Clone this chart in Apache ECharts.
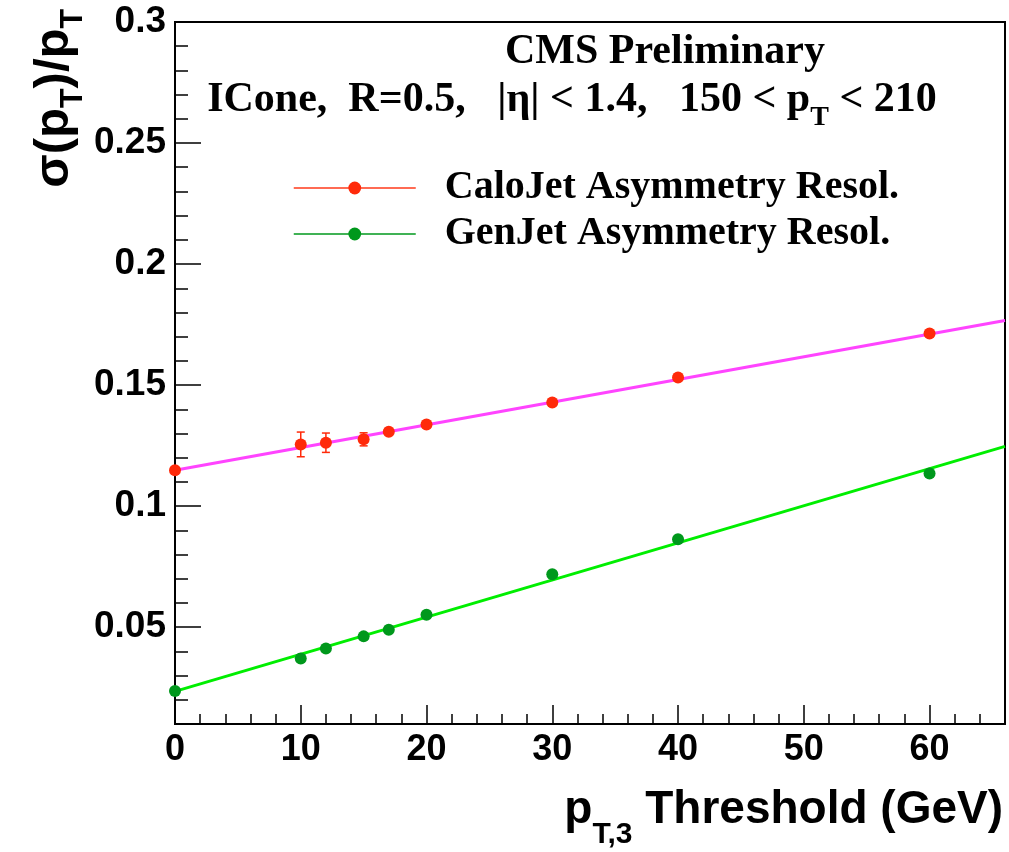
<!DOCTYPE html>
<html><head><meta charset="utf-8">
<script src="https://cdn.jsdelivr.net/npm/echarts@6/dist/echarts.min.js"></script>
<style>html,body{margin:0;padding:0;background:#fff}#c{width:1009px;height:852px}</style>
</head><body><div id="c"></div>
<script>
// ---- data ----
const thresholds = [0, 10, 12, 15, 17, 20, 30, 40, 60];
const caloRes = [0.1148, 0.1255, 0.1262, 0.1276, 0.1307, 0.1337, 0.1428, 0.1531, 0.1713];
const caloErr = [0.0006, 0.0051, 0.0040, 0.0027, 0.0012, 0.0008, 0.0006, 0.0006, 0.0006];
const genRes = [0.0236, 0.0371, 0.0412, 0.0462, 0.0489, 0.0551, 0.0719, 0.0863, 0.1135];
const fitX = [0, 66];
const caloFit = [0.1148, 0.1767];
const genFit = [0.0235, 0.1247];
const xTicks = [0, 10, 20, 30, 40, 50, 60];
const xMinorTicks = [0, 2, 4, 6, 8, 10, 12, 14, 16, 18, 20, 22, 24, 26, 28, 30, 32, 34, 36, 38, 40, 42, 44, 46, 48, 50, 52, 54, 56, 58, 60, 62, 64, 66];
const yTicks = [0.05, 0.1, 0.15, 0.2, 0.25, 0.3];
const yMinorTicks = [0.01, 0.02, 0.03, 0.04, 0.05, 0.06, 0.07, 0.08, 0.09, 0.1, 0.11, 0.12, 0.13, 0.14, 0.15, 0.16, 0.17, 0.18, 0.19, 0.2, 0.21, 0.22, 0.23, 0.24, 0.25, 0.26, 0.27, 0.28, 0.29, 0.3];
const seriesNames = ['CaloJet Asymmetry Resol.', 'GenJet Asymmetry Resol.'];

const chart = echarts.init(document.getElementById('c'), null, {renderer: 'canvas'});
const SANS = '"Liberation Sans", Arial, sans-serif';
const SERIF = '"Liberation Serif", "Times New Roman", serif';
const pairs = (xs, ys) => xs.map((x, i) => [x, ys[i]]);

const commonX = {type: 'value', min: 0, max: 66, splitLine: {show: false}};
const commonY = {type: 'value', min: 0.01, max: 0.3, interval: 0.01, splitLine: {show: false}};

const option = {
  animation: false,
  backgroundColor: '#fff',
  grid: {left: 175, right: 4, top: 22, bottom: 128, show: true, borderColor: '#000', borderWidth: 2, backgroundColor: 'transparent'},
  xAxis: [
    Object.assign({}, commonX, {
      position: 'bottom',
      axisLine: {onZero: false, lineStyle: {color: '#000', width: 2}},
      axisTick: {inside: true, length: 19, customValues: xTicks, lineStyle: {color: '#000', width: 1.5}},
      axisLabel: {customValues: xTicks, color: '#000', fontFamily: SANS, fontWeight: 'bold', fontSize: 36, margin: 8}
    }),
    Object.assign({}, commonX, {
      position: 'bottom',
      axisLine: {show: false, onZero: false},
      axisTick: {inside: true, length: 10, customValues: xMinorTicks, lineStyle: {color: '#000', width: 1.5}},
      axisLabel: {show: false}
    })
  ],
  yAxis: [
    Object.assign({}, commonY, {
      position: 'left',
      axisLine: {onZero: false, lineStyle: {color: '#000', width: 2}},
      axisTick: {inside: true, length: 26, customValues: yTicks, lineStyle: {color: '#000', width: 1.5}},
      axisLabel: {customValues: yTicks, color: '#000', fontFamily: SANS, fontWeight: 'bold', fontSize: 37, margin: 9,
        formatter: v => String(+v.toFixed(2))}
    }),
    Object.assign({}, commonY, {
      position: 'left',
      axisLine: {show: false, onZero: false},
      axisTick: {inside: true, length: 13, customValues: yMinorTicks, lineStyle: {color: '#000', width: 1.5}},
      axisLabel: {show: false}
    })
  ],
  legend: {
    data: seriesNames,
    orient: 'vertical',
    left: 293,
    top: 168,
    padding: 0,
    itemWidth: 122,
    itemHeight: 16,
    itemGap: 6,
    selectedMode: false,
    lineStyle: {opacity: 1, width: 1.5},
    textStyle: {color: '#000', fontFamily: SERIF, fontWeight: 'bold', fontSize: 40, lineHeight: 40, padding: [0, 0, 0, 24]}
  },
  series: [
    {
      type: 'custom',
      z: 2,
      silent: true,
      data: thresholds.map((x, i) => [x, caloRes[i], caloErr[i]]),
      renderItem: function (params, api) {
        const x = api.value(0), y = api.value(1), e = api.value(2);
        const top = api.coord([x, y + e]);
        const bot = api.coord([x, y - e]);
        const st = {stroke: '#ff2a0a', lineWidth: 1.5};
        return {
          type: 'group',
          children: [
            {type: 'line', shape: {x1: top[0], y1: top[1], x2: bot[0], y2: bot[1]}, style: st},
            {type: 'line', shape: {x1: top[0] - 4, y1: top[1], x2: top[0] + 4, y2: top[1]}, style: st},
            {type: 'line', shape: {x1: bot[0] - 4, y1: bot[1], x2: bot[0] + 4, y2: bot[1]}, style: st}
          ]
        };
      }
    },
    {
      name: 'caloFit', type: 'line', z: 3, symbol: 'none', silent: true,
      data: pairs(fitX, caloFit),
      lineStyle: {color: '#ff44ff', width: 3}
    },
    {
      name: 'genFit', type: 'line', z: 3, symbol: 'none', silent: true,
      data: pairs(fitX, genFit),
      lineStyle: {color: '#00ee00', width: 3}
    },
    {
      name: seriesNames[0], type: 'line', z: 4,
      data: pairs(thresholds, caloRes),
      symbol: 'circle', symbolSize: 12,
      itemStyle: {color: '#ff2a0a'},
      lineStyle: {color: '#ff3a1a', opacity: 0, width: 1.5}
    },
    {
      name: seriesNames[1], type: 'line', z: 4,
      data: pairs(thresholds, genRes),
      symbol: 'circle', symbolSize: 12,
      itemStyle: {color: '#00981c'},
      lineStyle: {color: '#00981c', opacity: 0, width: 1.5}
    }
  ],
  graphic: [
    {
      type: 'text', x: 665, y: 52, z: 10,
      style: {text: 'CMS Preliminary', font: 'bold 42px ' + SERIF, fill: '#000',
        textAlign: 'center', align: 'center', textVerticalAlign: 'middle', verticalAlign: 'middle'}
    },
    {
      type: 'text', x: 572, y: 100, z: 10,
      style: {
        text: '{m|ICone,  R=0.5,   |η| < 1.4,   150 < p}{sub|T}{m| < 210}',
        textAlign: 'center', align: 'center', textVerticalAlign: 'middle', verticalAlign: 'middle', fill: '#000',
        rich: {
          m: {fontFamily: SERIF, fontWeight: 'bold', fontSize: 42, lineHeight: 64, fill: '#000', color: '#000'},
          sub: {fontFamily: SERIF, fontWeight: 'bold', fontSize: 28, verticalAlign: 'bottom', fill: '#000', color: '#000'}
        }
      }
    },
    {
      type: 'text', x: 54, y: 9, z: 10, rotation: Math.PI / 2,
      style: {
        text: '{m|σ(p}{sub|T}{m|)/p}{sub|T}',
        textAlign: 'right', align: 'right', textVerticalAlign: 'middle', verticalAlign: 'middle', fill: '#000',
        rich: {
          m: {fontFamily: SANS, fontWeight: 'bold', fontSize: 49, lineHeight: 70, fill: '#000', color: '#000'},
          sub: {fontFamily: SANS, fontWeight: 'bold', fontSize: 32, verticalAlign: 'bottom', fill: '#000', color: '#000'}
        }
      }
    },
    {
      type: 'text', x: 1003, y: 810, z: 10,
      style: {
        text: '{m|p}{sub|T,3}{m| Threshold (GeV)}',
        textAlign: 'right', align: 'right', textVerticalAlign: 'middle', verticalAlign: 'middle', fill: '#000',
        rich: {
          m: {fontFamily: SANS, fontWeight: 'bold', fontSize: 46, lineHeight: 80, fill: '#000', color: '#000'},
          sub: {fontFamily: SANS, fontWeight: 'bold', fontSize: 30, verticalAlign: 'bottom', fill: '#000', color: '#000'}
        }
      }
    }
  ]
};
chart.setOption(option);
</script>
</body></html>
